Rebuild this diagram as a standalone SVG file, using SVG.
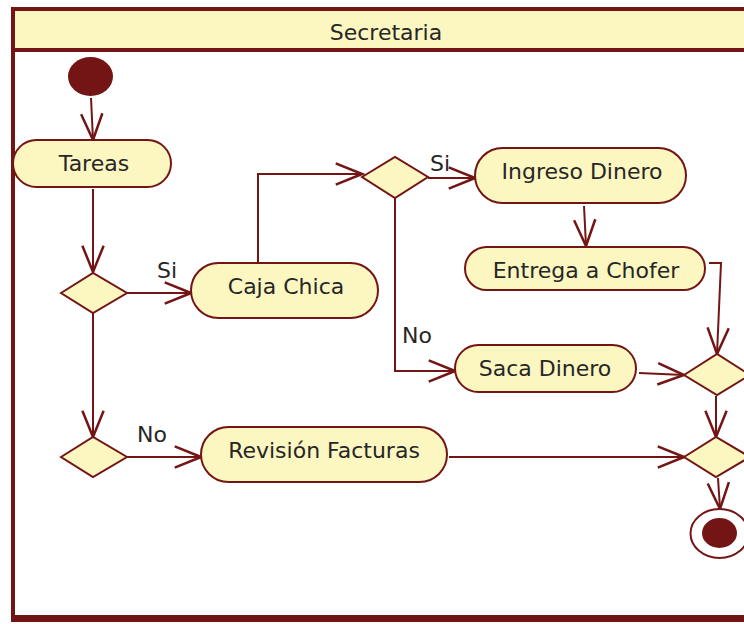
<svg xmlns="http://www.w3.org/2000/svg" width="744" height="624" viewBox="0 0 744 624">
  <style>
    .node { fill: #FCF6C1; stroke: #741515; stroke-width: 2; }
    .lbl { font-family: "DejaVu Sans", Verdana, sans-serif; font-size: 22px; fill: #262626; }
    .mid { text-anchor: middle; }
    .edge { fill: none; stroke: #741515; stroke-width: 2; marker-end: url(#open); }
    .dot { fill: #741515; }
  </style>
  <defs>
    <marker id="open" markerUnits="userSpaceOnUse" markerWidth="30" markerHeight="30" viewBox="-22 -11 24 22" refX="0" refY="0" orient="auto">
      <path d="M-21,-8.5 L0,0 L-21,8.5" fill="none" stroke="#741515" stroke-width="2"/>
    </marker>
  </defs>

  <rect width="744" height="624" fill="#ffffff"/>

  <!-- swimlane -->
  <g id="lane">
    <rect x="13" y="9" width="760" height="40" fill="#FCF6C1"/>
    <line x1="11" y1="9" x2="744" y2="9" stroke="#741515" stroke-width="4"/>
    <line x1="11" y1="50" x2="744" y2="50" stroke="#741515" stroke-width="4"/>
    <line x1="13" y1="7" x2="13" y2="622" stroke="#741515" stroke-width="4"/>
    <line x1="11" y1="618.5" x2="744" y2="618.5" stroke="#741515" stroke-width="7"/>
    <text class="lbl mid" x="386" y="40">Secretaria</text>
  </g>

  <!-- connectors -->
  <g id="edges">
    <path class="edge" d="M91,98 L93,140"/>
    <path class="edge" d="M93,189 L93,272"/>
    <path class="edge" d="M127,293 L191,293"/>
    <path class="edge" d="M93,313 L93,437"/>
    <path class="edge" d="M127,457 L201,457"/>
    <path class="edge" d="M258,263 L258,174 L362,174"/>
    <path class="edge" d="M428,178 L475,178"/>
    <path class="edge" d="M395,198 L395,371 L455,371"/>
    <path class="edge" d="M584,206 L586,246"/>
    <path class="edge" d="M709,263 L721,263 L717,354"/>
    <path class="edge" d="M639,373 L684,375"/>
    <path class="edge" d="M449,457 L684,457"/>
    <path class="edge" d="M716,396 L716,437"/>
    <path class="edge" d="M718,478 L720,509"/>
    <text class="lbl" x="157" y="278">Si</text>
    <text class="lbl" x="430" y="171">Si</text>
    <text class="lbl" x="402" y="343">No</text>
    <text class="lbl" x="137" y="442">No</text>
  </g>

  <!-- nodes -->
  <g id="start"><ellipse class="dot" cx="90.5" cy="76.5" rx="22.5" ry="19.5"/></g>

  <g id="tareas">
    <rect class="node" x="13" y="140" width="158" height="47" rx="23.5"/>
    <text class="lbl mid" x="94" y="171">Tareas</text>
  </g>

  <g id="decision1"><path class="node" d="M61,293 L93,273 L127,293 L93,313 Z"/></g>

  <g id="cajaChica">
    <rect class="node" x="191" y="263" width="187" height="55" rx="27.5"/>
    <text class="lbl mid" x="286" y="294">Caja Chica</text>
  </g>

  <g id="decision2"><path class="node" d="M362,177 L395,157 L428,177 L395,198 Z"/></g>

  <g id="ingresoDinero">
    <rect class="node" x="475" y="148" width="211" height="55" rx="27.5"/>
    <text class="lbl mid" x="582" y="179">Ingreso Dinero</text>
  </g>

  <g id="entregaChofer">
    <rect class="node" x="465" y="247" width="240" height="43" rx="21.5"/>
    <text class="lbl mid" x="586" y="278">Entrega a Chofer</text>
  </g>

  <g id="sacaDinero">
    <rect class="node" x="455" y="345" width="181" height="47" rx="23.5"/>
    <text class="lbl mid" x="545" y="376">Saca Dinero</text>
  </g>

  <g id="merge1"><path class="node" d="M684,375 L717,354 L750,375 L717,395 Z"/></g>

  <g id="decision3"><path class="node" d="M61,457 L93,437 L127,457 L93,477 Z"/></g>

  <g id="revisionFacturas">
    <rect class="node" x="201" y="427" width="246" height="55" rx="27.5"/>
    <text class="lbl mid" x="324" y="458">Revisión Facturas</text>
  </g>

  <g id="merge2"><path class="node" d="M684,457 L716,437 L750,457 L716,477 Z"/></g>

  <g id="end">
    <ellipse cx="719.5" cy="533.5" rx="29" ry="24.5" fill="#ffffff" stroke="#741515" stroke-width="2"/>
    <ellipse class="dot" cx="719.5" cy="533" rx="17.5" ry="15"/>
  </g>
</svg>
